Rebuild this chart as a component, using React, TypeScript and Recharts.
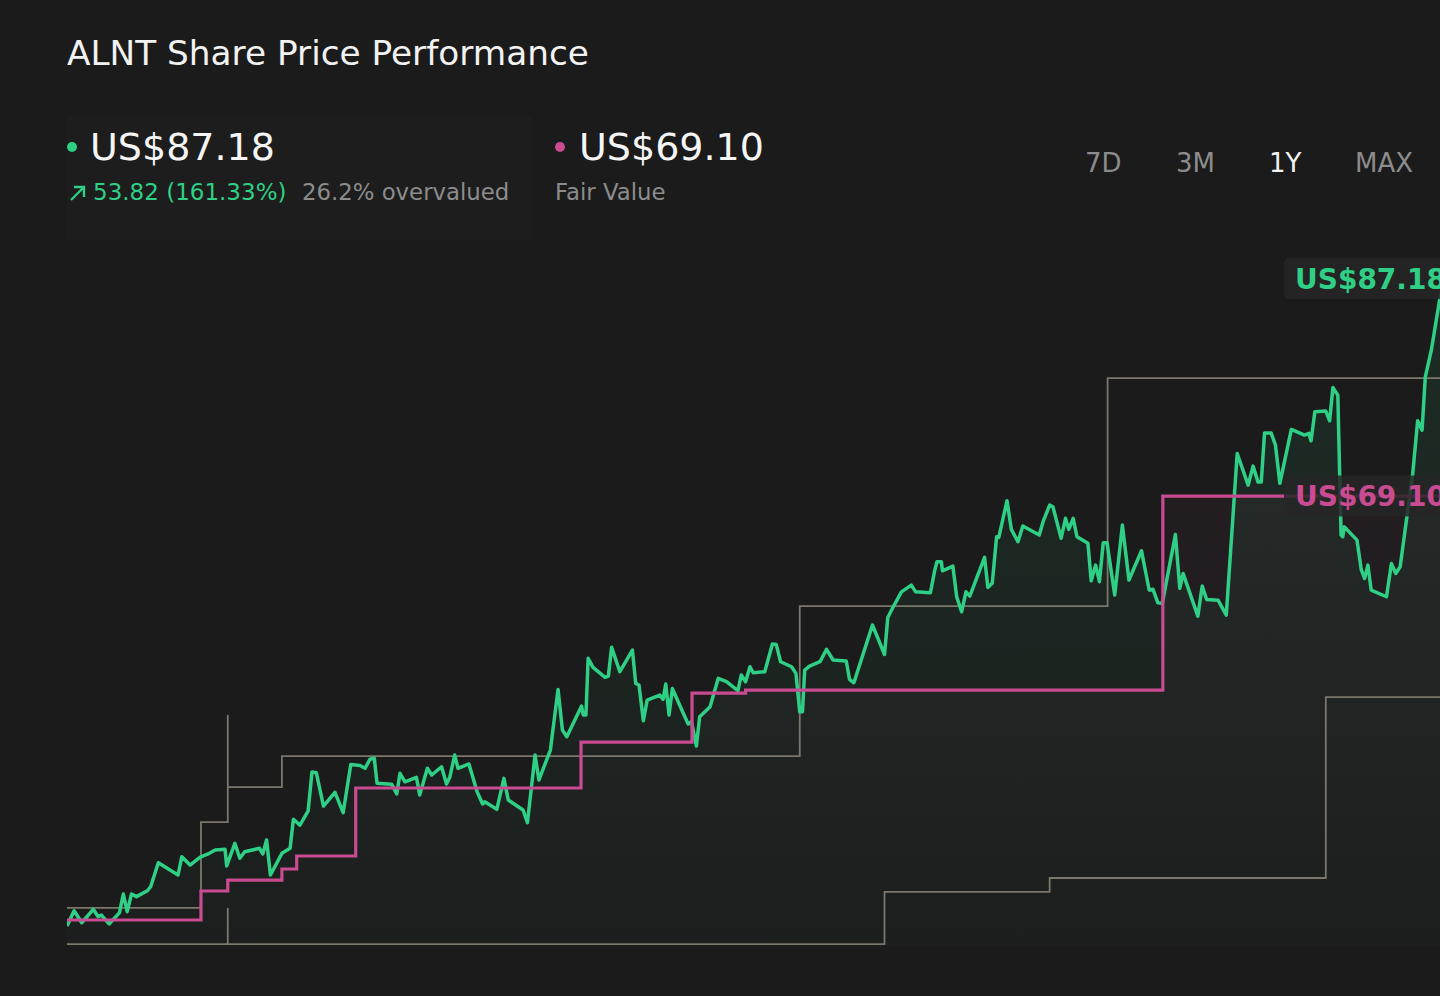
import { Area, ComposedChart, Line, XAxis, YAxis } from "recharts";

const GREEN = "#2fcf85";
const PINK = "#c94b91";
const BAND = "#7b776c";
const BG = "#1b1b1b";
const FONT = "DejaVu Sans";

const RANGES = ["7D", "3M", "1Y", "MAX"];
const RANGE_X = [1085, 1176, 1269, 1355];
const ACTIVE_RANGE = "1Y";

const TICKER = "ALNT";
const LAST_PRICE = 87.18;
const FAIR_PRICE = 69.1;
const CHANGE = 53.82;
const CHANGE_PCT = 161.33;
const OVERVALUED_PCT = 26.2;

// [trading day, US$]
const SHARE_PRICE: [number, number][] = [
  [0, 33.36], [1.3, 34.63], [2.7, 33.63], [4.8, 34.75], [5.7, 34.13], [6.3, 34.27],
  [7.7, 33.53], [9.6, 34.47], [10.3, 36.02], [11.0, 34.55], [11.8, 36.02], [12.7, 35.8],
  [14.7, 36.29], [15.3, 36.63], [16.7, 38.62], [20.3, 37.6], [21.0, 39.12], [22.5, 38.43],
  [24.3, 39.07], [25.8, 39.35], [27.1, 39.68], [28.9, 39.74], [29.2, 38.35], [30.7, 40.23],
  [31.6, 38.99], [32.5, 39.53], [35.2, 39.82], [35.8, 39.35], [36.5, 40.51], [37.2, 37.6],
  [39.3, 39.4], [40.8, 39.82], [41.4, 42.23], [42.6, 41.75], [44.1, 42.94], [44.8, 46.16],
  [45.6, 46.1], [46.9, 43.33], [49.0, 44.47], [50.5, 42.78], [51.9, 46.78], [53.6, 46.7],
  [54.5, 46.47], [55.4, 47.22], [56.2, 47.3], [56.7, 45.22], [59.4, 45.14], [60.3, 44.33],
  [60.9, 46.05], [61.8, 45.35], [63.9, 45.72], [64.5, 44.25], [65.9, 46.47], [66.7, 45.91],
  [68.5, 46.6], [69.4, 45.16], [70.0, 45.72], [70.9, 47.57], [71.5, 46.47], [73.5, 46.83],
  [75.0, 44.52], [76.0, 43.5], [76.4, 43.69], [78.6, 43.06], [79.9, 45.63], [80.7, 43.83],
  [83.4, 43.0], [84.2, 41.95], [85.6, 47.57], [86.3, 45.49], [88.4, 47.99], [89.8, 53.03],
  [90.6, 49.65], [91.4, 49.09], [94.1, 51.65], [94.4, 50.9], [94.9, 50.9], [95.3, 55.61],
  [96.2, 54.86], [98.4, 54.03], [99.0, 54.14], [99.6, 56.53], [101.1, 54.5], [103.4, 56.3],
  [104.0, 53.53], [104.6, 53.39], [105.4, 50.42], [106.1, 52.14], [108.4, 52.56], [109.0, 52.2],
  [109.5, 53.47], [110.1, 50.9], [110.7, 53.11], [112.7, 51.04], [113.6, 50.15], [114.2, 50.34],
  [115.1, 48.32], [115.7, 50.76], [117.6, 51.59], [119.1, 53.95], [120.6, 53.67], [122.7, 52.92],
  [123.3, 54.22], [124.1, 53.67], [124.9, 54.91], [125.5, 54.41], [127.6, 54.5], [129.0, 56.8],
  [129.7, 56.77], [130.5, 55.33], [132.5, 54.91], [133.3, 54.36], [134.0, 51.17], [134.5, 51.17],
  [134.9, 54.63], [135.8, 54.97], [137.7, 55.33], [138.9, 56.36], [140.1, 55.47], [142.5, 55.39],
  [143.1, 53.87], [143.9, 53.58], [147.3, 58.38], [149.5, 55.93], [150.1, 59.0], [151.1, 59.9],
  [152.6, 61.14], [154.4, 61.7], [155.2, 61.14], [157.9, 61.06], [158.7, 62.96], [159.1, 63.64],
  [159.9, 63.64], [160.1, 62.89], [162.0, 63.28], [162.7, 60.73], [163.6, 59.48], [164.4, 61.14],
  [165.1, 60.78], [167.8, 64.0], [168.4, 61.51], [169.2, 61.85], [170.0, 65.72], [170.4, 65.67],
  [171.9, 68.71], [172.7, 66.33], [173.9, 65.3], [174.8, 66.61], [177.8, 65.86], [178.5, 66.97],
  [179.7, 68.35], [180.3, 68.21], [181.8, 65.59], [182.6, 67.25], [183.2, 66.33], [184.0, 67.25],
  [184.7, 65.72], [186.7, 65.17], [187.3, 62.06], [188.1, 63.36], [188.8, 61.98], [189.5, 65.21],
  [190.2, 65.21], [191.6, 60.87], [193.0, 66.69], [194.2, 62.12], [196.5, 64.55], [197.9, 61.29],
  [198.6, 61.35], [199.5, 60.23], [200.3, 60.18], [202.7, 65.9], [203.5, 61.43], [204.1, 62.67],
  [206.8, 59.12], [207.6, 61.63], [208.4, 60.51], [210.5, 60.45], [212.0, 59.21], [214.0, 72.64],
  [216.0, 70.01], [216.9, 71.59], [217.8, 70.28], [218.4, 70.28], [219.0, 74.35], [220.2, 74.35],
  [221.0, 73.33], [221.8, 70.16], [223.9, 74.64], [226.3, 74.17], [227.1, 74.31], [227.5, 73.69],
  [228.2, 76.11], [230.2, 76.17], [230.9, 75.36], [231.5, 78.13], [232.4, 77.49], [233.0, 65.86],
  [233.3, 65.72], [233.6, 66.54], [235.9, 65.44], [236.7, 62.96], [237.3, 62.26], [237.9, 63.36],
  [238.5, 61.29], [241.3, 60.73], [242.2, 63.5], [243.0, 62.67], [243.8, 63.22], [246.1, 70.98],
  [247.0, 75.36], [247.8, 74.58], [248.4, 79.01], [249.5, 81.23], [251.0, 85.38], [252, 87.18],
];

const FAIR_VALUE: [number, number][] = [
  [0, 33.86], [24.5, 36.27], [29.4, 37.18], [39.3, 38.1], [42.0, 39.18], [52.8, 44.83],
  [94.0, 48.65], [114.3, 52.72], [124.1, 52.97], [200.4, 69.1], [252, 69.1],
];

const TARGET_HIGH: [number, number][] = [
  [0, 34.86], [24.5, 42.0], [29.4, 50.9], [29.4, 44.91], [39.3, 47.49], [134.0, 59.95],
  [190.3, 78.9], [252, 78.9],
];

const TARGET_LOW: [number, number][] = [
  [0, 31.86], [29.4, 34.86], [29.4, 31.86], [149.5, 36.19], [179.7, 37.35], [230.2, 52.39],
  [252, 52.39],
];

const toRows = (pts: [number, number][]) => pts.map(([d, v]) => ({ d, v }));

const priceRows = toRows(SHARE_PRICE);
const fairRows = toRows(FAIR_VALUE);
const highRows = toRows(TARGET_HIGH);
const lowRows = toRows(TARGET_LOW);

function EndTag({ cx, cy, text, color }: { cx: number; cy: number; text: string; color: string }) {
  return (
    <g>
      <rect x={cx - 161} y={cy - 20.5} width={180} height={41} rx={5} fill="#262626" fillOpacity={0.85} />
      <text x={cx - 150} y={cy + 10} fill={color} fontSize={28} fontWeight={700} fontFamily={FONT}>
        {text}
      </text>
    </g>
  );
}

const tagDot = (last: number, text: string, color: string) => (p: any) =>
  p.index === last ? (
    <EndTag key="tag" cx={p.cx} cy={p.cy} text={text} color={color} />
  ) : (
    <g key={p.index} />
  );

function Header() {
  return (
    <svg width={1440} height={240} style={{ position: "absolute", left: 0, top: 0 }} fontFamily={FONT}>
      <rect x={67} y={116} width={465} height={124} fill="#ffffff" fillOpacity={0.012} />
      <text x={67} y={65} fontSize={34.3} fill="#f2f2f2">
        {TICKER} Share Price Performance
      </text>

      <circle cx={72} cy={147} r={5} fill={GREEN} />
      <text x={90} y={160} fontSize={38} fill="#f5f5f5">
        US${LAST_PRICE.toFixed(2)}
      </text>
      <path d="M71 200 L84 187 M74 187 H84 V197" stroke={GREEN} strokeWidth={2.4} fill="none" />
      <text x={93} y={200} fontSize={23} fill={GREEN}>
        {CHANGE.toFixed(2)} ({CHANGE_PCT.toFixed(2)}%)
      </text>
      <text x={302} y={200} fontSize={22.8} fill="#8c8c8c">
        {OVERVALUED_PCT}% overvalued
      </text>

      <circle cx={560} cy={147} r={5} fill={PINK} />
      <text x={579} y={160} fontSize={38} fill="#f5f5f5">
        US${FAIR_PRICE.toFixed(2)}
      </text>
      <text x={555} y={200} fontSize={22.8} fill="#8c8c8c">
        Fair Value
      </text>

      {RANGES.map((r, i) => (
        <text key={r} x={RANGE_X[i]} y={172} fontSize={26} fill={r === ACTIVE_RANGE ? "#f2f2f2" : "#8c8c8c"}>
          {r}
        </text>
      ))}
    </svg>
  );
}

export default function App() {
  return (
    <div
      style={{
        position: "fixed",
        left: 0,
        top: 0,
        width: 1440,
        height: 996,
        overflow: "hidden",
        background: BG,
        fontFamily: FONT,
      }}
    >
      <div style={{ position: "absolute", left: 0, top: 0 }}>
        <ComposedChart width={1520} height={996} margin={{ top: 230, right: 75, bottom: 50, left: 67 }}>
          <defs>
            <linearGradient id="priceFill" x1="0" y1="0" x2="0" y2="1">
              <stop offset="0%" stopColor={GREEN} stopOpacity={0.16} />
              <stop offset="100%" stopColor={GREEN} stopOpacity={0.03} />
            </linearGradient>
            <linearGradient id="fairFill" x1="0" y1="0" x2="0" y2="1">
              <stop offset="0%" stopColor={PINK} stopOpacity={0.08} />
              <stop offset="100%" stopColor={PINK} stopOpacity={0.0} />
            </linearGradient>
          </defs>
          <XAxis type="number" dataKey="d" domain={[0, 252]} allowDataOverflow hide />
          <YAxis type="number" domain={[31.697, 91.22]} allowDataOverflow hide />
          <Area
            data={fairRows}
            dataKey="v"
            type="stepAfter"
            stroke="none"
            fill="url(#fairFill)"
            isAnimationActive={false}
          />
          <Area
            data={priceRows}
            dataKey="v"
            type="linear"
            stroke="none"
            fill="url(#priceFill)"
            isAnimationActive={false}
          />
          <Line data={highRows} dataKey="v" type="stepAfter" stroke={BAND} strokeWidth={1.8} dot={false} isAnimationActive={false} />
          <Line data={lowRows} dataKey="v" type="stepAfter" stroke={BAND} strokeWidth={1.8} dot={false} isAnimationActive={false} />
          <Line
            data={priceRows}
            dataKey="v"
            type="linear"
            stroke={GREEN}
            strokeWidth={3.5}
            strokeLinejoin="round"
            dot={tagDot(priceRows.length - 1, `US$${LAST_PRICE.toFixed(2)}`, GREEN)}
            activeDot={false}
            isAnimationActive={false}
          />
          <Line
            data={fairRows}
            dataKey="v"
            type="stepAfter"
            stroke={PINK}
            strokeWidth={3.2}
            dot={tagDot(fairRows.length - 1, `US$${FAIR_PRICE.toFixed(2)}`, PINK)}
            activeDot={false}
            isAnimationActive={false}
          />
        </ComposedChart>
      </div>
      <Header />
    </div>
  );
}
